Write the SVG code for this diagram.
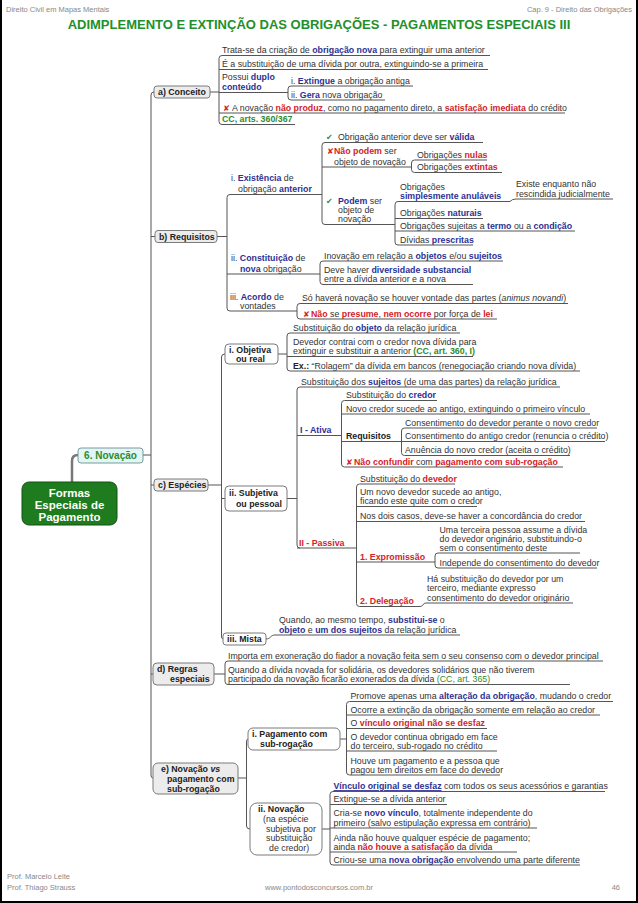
<svg xmlns="http://www.w3.org/2000/svg" width="638" height="903" viewBox="0 0 638 903">
<style>
.t{font-family:"Liberation Sans",Arial,sans-serif;font-size:8.8px;fill:#333}
.b{font-weight:bold;fill:#2e3192}
.r{font-weight:bold;fill:#d2232a}
.g{font-weight:bold;fill:#2e8b2e}
.gn{fill:#2e8b2e}
.k{font-weight:bold;fill:#222}
.s{font-family:"DejaVu Sans",sans-serif;font-weight:bold;font-size:8px}
.ln{stroke:#555;stroke-width:1;fill:none}
.box{fill:#ececec;stroke:#7a7a7a;stroke-width:1}
.wbox{fill:#fff;stroke:#7a7a7a;stroke-width:1}
.hd{font-family:"Liberation Sans",Arial,sans-serif;font-size:7.5px;fill:#888}
.rt{font-family:"Liberation Sans",Arial,sans-serif;font-size:11.5px;font-weight:bold;fill:#fff}
</style>
<rect width="638" height="903" fill="#fff"/>
<path d="M1,0V902H637V0" fill="none" stroke="#000" stroke-width="2"/>
<g id="header">
<text class="hd" x="6" y="12">Direito Civil em Mapas Mentais</text>
<text class="hd" x="632" y="12" text-anchor="end">Cap. 9 - Direito das Obrigações</text>
<text x="319" y="29" text-anchor="middle" style="font-family:'Liberation Sans',Arial,sans-serif;font-size:13px;font-weight:bold;fill:#22902a">ADIMPLEMENTO E EXTINÇÃO DAS OBRIGAÇÕES - PAGAMENTOS ESPECIAIS III</text>
</g>
<g id="footer">
<text class="hd" x="7" y="879">Prof. Marcelo Leite</text>
<text class="hd" x="7" y="890">Prof. Thiago Strauss</text>
<text class="hd" x="319" y="890" text-anchor="middle">www.pontodosconcursos.com.br</text>
<text class="hd" x="620" y="890" text-anchor="end">46</text>
</g>

<g id="connectors" class="ln">
<path d="M72,482V461Q72,455 78,455" stroke="#777" stroke-width="2.5"/>
<path d="M143,455H151"/>
<path d="M154,92Q151,92 151,95V775Q151,778 153,778"/>
<path d="M151,236.5H155M151,485H154M151,674H153"/>
<path d="M210,92H219"/>
<path d="M222,55.5Q219,55.5 219,58.5V121.5Q219,124.5 222,124.5"/>
<path d="M291,86Q288,86 288,89V97Q288,100 291,100"/>
<path d="M217,236.5H227"/>
<path d="M230,194.5Q227,194.5 227,197.5V308Q227,311 230,311"/>
<path d="M325,142.5Q322,142.5 322,145.5V221.5Q322,224.5 325,224.5"/>
<path d="M414.5,160Q411.5,160 411.5,163V169.5Q411.5,172.5 414.5,172.5"/>
<path d="M398,201.5Q395,201.5 395,204.5V242Q395,245 398,245"/>
<path d="M510,201.5Q512,199 516,199"/>
<path d="M323,261Q320,261 320,264V281.5Q320,284.5 323,284.5"/>
<path d="M300,303.5Q297,303.5 297,306.5V316Q297,319 300,319"/>
<path d="M208,485H221.5"/>
<path d="M225,354Q221.5,354 221.5,357V636Q221.5,639 223,639"/>
<path d="M221.5,498.5H225"/>
<path d="M278,354H287"/>
<path d="M290,333Q287,333 287,336V368Q287,371 290,371"/>
<path d="M287,498.5H297"/>
<path d="M300,387Q297,387 297,390V545Q297,548 300,548"/>
<path d="M344.5,400.5Q341.5,400.5 341.5,403.5V464Q341.5,467 344.5,467"/>
<path d="M404.5,428Q401.5,428 401.5,431V452.5Q401.5,455.5 404.5,455.5"/>
<path d="M359.5,484Q356.5,484 356.5,487V603.5Q356.5,606.5 359.5,606.5"/>
<path d="M438,553Q435,553 435,556V565Q435,568 438,568"/>
<path d="M420,606.5C423,606.5 423,603 426,603"/>
<path d="M266,639C271,639 270,635 275,635"/>
<path d="M214,674H225"/>
<path d="M228,661Q225,661 225,664V681.5Q225,684.5 228,684.5"/>
<path d="M238,778H246.5"/>
<path d="M248,739Q246.5,739 246.5,742V826Q246.5,829 250,829"/>
<path d="M340,739H346.5"/>
<path d="M349.5,701.5Q346.5,701.5 346.5,704.5V772Q346.5,775 349.5,775"/>
<path d="M322,829H330"/>
<path d="M333,791.5Q330,791.5 330,794.5V862Q330,865 333,865"/>
</g>

<g id="n-root">
<rect x="22" y="482" width="95" height="43" rx="7" fill="#1e7b1e" stroke="#135413"/>
<text class="rt" x="69.5" y="496.5" text-anchor="middle">Formas</text>
<text class="rt" x="69.5" y="508.5" text-anchor="middle">Especiais de</text>
<text class="rt" x="69.5" y="521" text-anchor="middle">Pagamento</text>
</g>
<g id="n-novacao">
<rect x="78" y="448" width="65" height="15" rx="3" fill="#e2f6f6" stroke="#7a9a9a"/>
<text class="t" x="110.5" y="459" text-anchor="middle" style="font-size:10px;font-weight:bold;fill:#2e8b2e">6. Novação</text>
</g>

<!-- a) Conceito -->
<g id="n-a"><rect class="box" x="154" y="86" width="56" height="12" rx="3"/><text class="t k" x="158" y="95">a) Conceito</text></g>
<g id="n-a1"><text class="t" x="222" y="53">Trata-se da criação de <tspan class="b">obrigação nova</tspan> para extinguir uma anterior</text><path class="ln" d="M222,55.5H490"/></g>
<g id="n-a2"><text class="t" x="222" y="67">É a substituição de uma dívida por outra, extinguindo-se a primeira</text><path class="ln" d="M219,69.5H488"/></g>
<g id="n-a3"><text class="t" x="222" y="80">Possui <tspan class="b">duplo</tspan></text><text class="t b" x="222" y="90">conteúdo</text><path class="ln" d="M219,92.5H288"/></g>
<g id="n-a3a"><text class="t" x="291" y="83.5">i. <tspan class="b">Extingue</tspan> a obrigação antiga</text><path class="ln" d="M291,86H413"/></g>
<g id="n-a3b"><text class="t" x="291" y="97.5">ii. <tspan class="b">Gera</tspan> nova obrigação</text><path class="ln" d="M291,100H385"/></g>
<g id="n-a4"><text class="t" x="223" y="110.5"><tspan class="s" fill="#d2232a">✘</tspan><tspan x="232">A novação </tspan><tspan class="r">não produz</tspan>, como no pagamento direto, a <tspan class="r">satisfação imediata</tspan> do crédito</text><path class="ln" d="M219,113H565"/></g>
<g id="n-a5"><text class="t g" x="222" y="122">CC, arts. 360/367</text><path class="ln" d="M222,124.5H295"/></g>

<!-- b) Requisitos -->
<g id="n-b"><rect class="box" x="155" y="230.5" width="62" height="12" rx="3"/><text class="t k" x="159" y="239.5">b) Requisitos</text></g>
<g id="n-b1"><text class="t" x="231" y="181">i. <tspan class="b">Existência</tspan> de</text><text class="t" x="238" y="191.5">obrigação <tspan class="b">anterior</tspan></text><path class="ln" d="M230,194.5H322"/></g>
<g id="n-b1a"><text class="t" x="326" y="140"><tspan class="s" fill="#2e8b2e">✔</tspan><tspan x="338">Obrigação anterior deve ser  </tspan><tspan class="b">válida</tspan></text><path class="ln" d="M325,142.5H483"/></g>
<g id="n-b1b"><text class="t" x="327" y="153.5"><tspan class="s" fill="#d2232a">✘</tspan><tspan x="334" class="r">Não podem</tspan> ser</text><text class="t" x="334" y="164.5">objeto de novação</text><path class="ln" d="M322,167H411.5"/></g>
<g id="n-b1b1"><text class="t" x="417" y="157.5">Obrigações <tspan class="r">nulas</tspan></text><path class="ln" d="M414.5,160H487"/></g>
<g id="n-b1b2"><text class="t" x="417" y="170">Obrigações <tspan class="r">extintas</tspan></text><path class="ln" d="M414.5,172.5H502"/></g>
<g id="n-b1c"><text class="t" x="326" y="203.5"><tspan class="s" fill="#2e8b2e">✔</tspan><tspan x="338" class="b">Podem</tspan> ser</text><text class="t" x="338" y="213">objeto de</text><text class="t" x="338" y="222">novação</text><path class="ln" d="M325,224.5H395"/></g>
<g id="n-b1c1"><text class="t" x="400" y="189.5">Obrigações</text><text class="t b" x="400" y="199">simplesmente anuláveis</text><path class="ln" d="M398,201.5H510"/></g>
<g id="n-b1c1a"><text class="t" x="516" y="186.5">Existe enquanto não</text><text class="t" x="516" y="196.5">rescindida judicialmente</text><path class="ln" d="M516,199H613"/></g>
<g id="n-b1c2"><text class="t" x="400" y="216">Obrigações <tspan class="b">naturais</tspan></text><path class="ln" d="M395,218.5H483"/></g>
<g id="n-b1c3"><text class="t" x="400" y="228.5">Obrigações sujeitas a <tspan class="b">termo</tspan> ou a  <tspan class="b">condição</tspan></text><path class="ln" d="M395,231H575"/></g>
<g id="n-b1c4"><text class="t" x="400" y="242.5">Dívidas <tspan class="b">prescritas</tspan></text><path class="ln" d="M398,245H473"/></g>
<g id="n-b2"><text class="t" x="231" y="261">ii. <tspan class="b">Constituição</tspan> de</text><text class="t" x="240" y="271.5"><tspan class="b">nova</tspan> obrigação</text><path class="ln" d="M227,274H320"/></g>
<g id="n-b2a"><text class="t" x="324" y="258.5">Inovação em relação a <tspan class="b">objetos</tspan> e/ou  <tspan class="b">sujeitos</tspan></text><path class="ln" d="M323,261H503"/></g>
<g id="n-b2b"><text class="t" x="324" y="273">Deve haver <tspan class="b">diversidade substancial</tspan></text><text class="t" x="324" y="282">entre a dívida anterior e a nova</text><path class="ln" d="M323,284.5H473"/></g>
<g id="n-b3"><text class="t" x="230" y="299.5">iii. <tspan class="b">Acordo</tspan> de</text><text class="t" x="240" y="308.5">vontades</text><path class="ln" d="M230,311H297"/></g>
<g id="n-b3a"><text class="t" x="302" y="301">Só haverá novação se houver vontade das partes (<tspan font-style="italic">animus novandi</tspan>)</text><path class="ln" d="M300,303.5H568"/></g>
<g id="n-b3b"><text class="t" x="303" y="316.5"><tspan class="s" fill="#d2232a">✘</tspan><tspan x="311" class="r">Não</tspan> se <tspan class="r">presume</tspan>, <tspan class="r">nem ocorre</tspan> por força de <tspan class="r">lei</tspan></text><path class="ln" d="M300,319H497"/></g>

<!-- c) Espécies -->
<g id="n-c"><rect class="box" x="154" y="479" width="54" height="12" rx="3"/><text class="t k" x="158" y="488">c) Espécies</text></g>
<g id="n-c1"><rect class="wbox" x="225" y="344" width="53" height="20" rx="4"/><text class="t k" x="229" y="352.5">i. Objetiva</text><text class="t k" x="236" y="361.5">ou real</text></g>
<g id="n-c1a"><text class="t" x="293" y="330.5">Substituição do <tspan class="b">objeto</tspan> da relação jurídica</text><path class="ln" d="M290,333H460"/></g>
<g id="n-c1b"><text class="t" x="293" y="345">Devedor contrai com o credor nova dívida para</text><text class="t" x="293" y="354">extinguir e substituir a anterior <tspan class="g">(CC, art. 360, I)</tspan></text><path class="ln" d="M287,356.5H473"/></g>
<g id="n-c1c"><text class="t" x="293" y="368.5"><tspan class="k">Ex.:</tspan> “Rolagem” da dívida em bancos (renegociação criando nova dívida)</text><path class="ln" d="M290,371H580"/></g>
<g id="n-c2"><rect class="wbox" x="225" y="486" width="62" height="25" rx="4"/><text class="t k" x="229" y="496">ii. Subjetiva</text><text class="t k" x="236" y="506.5">ou pessoal</text></g>
<g id="n-c2a"><text class="t" x="301" y="384.5">Substituição dos <tspan class="b">sujeitos</tspan> (de uma das partes) da relação jurídica</text><path class="ln" d="M300,387H560"/></g>
<g id="n-c2b"><text class="t b" x="300" y="433">I - Ativa</text><path class="ln" d="M297,435.5H341.5"/></g>
<g id="n-c2b1"><text class="t" x="346" y="398">Substituição do <tspan class="b">credor</tspan></text><path class="ln" d="M344.5,400.5H437"/></g>
<g id="n-c2b2"><text class="t" x="346" y="411.5">Novo credor sucede ao antigo, extinguindo o primeiro vínculo</text><path class="ln" d="M341.5,414H590"/></g>
<g id="n-c2b3"><text class="t k" x="346" y="439">Requisitos</text><path class="ln" d="M341.5,441.5H401.5"/></g>
<g id="n-c2b3a"><text class="t" x="405" y="425.5">Consentimento do devedor perante o novo credor</text><path class="ln" d="M404.5,428H597"/></g>
<g id="n-c2b3b"><text class="t" x="405" y="439">Consentimento do antigo credor (renuncia o crédito)</text><path class="ln" d="M401.5,441.5H605"/></g>
<g id="n-c2b3c"><text class="t" x="405" y="453">Anuência do novo credor (aceita o crédito)</text><path class="ln" d="M404.5,455.5H570"/></g>
<g id="n-c2b4"><text class="t" x="346" y="464.5"><tspan class="s" fill="#d2232a">✘</tspan><tspan x="354" class="r">Não confundir</tspan> com <tspan class="r">pagamento com sub-rogação</tspan></text><path class="ln" d="M344.5,467H563"/></g>
<g id="n-c2c"><text class="t r" x="299" y="545.5">II - Passiva</text><path class="ln" d="M297,548H356.5"/></g>
<g id="n-c2c1"><text class="t" x="360" y="481.5">Substituição do <tspan class="r">devedor</tspan></text><path class="ln" d="M359.5,484H455"/></g>
<g id="n-c2c2"><text class="t" x="360" y="495">Um novo devedor sucede ao antigo,</text><text class="t" x="360" y="504">ficando este quite com o credor</text><path class="ln" d="M356.5,506.5H477"/></g>
<g id="n-c2c3"><text class="t" x="360" y="519">Nos dois casos, deve-se haver a concordância do credor</text><path class="ln" d="M356.5,521.5H585"/></g>
<g id="n-c2c4"><text class="t r" x="360" y="559.5">1. Expromissão</text><path class="ln" d="M356.5,562H435"/></g>
<g id="n-c2c4a"><text class="t" x="439.5" y="532.5">Uma terceira pessoa assume a dívida</text><text class="t" x="439.5" y="541.5">do devedor originário, substituindo-o</text><text class="t" x="439.5" y="550.5">sem o consentimento deste</text><path class="ln" d="M438,553H580"/></g>
<g id="n-c2c4b"><text class="t" x="439.5" y="565.5">Independe do consentimento do devedor</text><path class="ln" d="M438,568H597"/></g>
<g id="n-c2c5"><text class="t r" x="360" y="604">2. Delegação</text><path class="ln" d="M359.5,606.5H420"/></g>
<g id="n-c2c5a"><text class="t" x="427" y="581.5">Há substituição do devedor por um</text><text class="t" x="427" y="591">terceiro, mediante expresso</text><text class="t" x="427" y="600.5">consentimento do devedor originário</text><path class="ln" d="M426,603H573"/></g>
<g id="n-c3"><rect class="wbox" x="223" y="633" width="43" height="12" rx="3"/><text class="t k" x="227" y="642">iii. Mista</text></g>
<g id="n-c3a"><text class="t" x="279" y="623">Quando, ao mesmo tempo, <tspan class="b">substitui-se</tspan> o</text><text class="t" x="279" y="632.5"><tspan class="b">objeto</tspan> e <tspan class="b">um dos sujeitos</tspan> da relação jurídica</text><path class="ln" d="M275,635H460"/></g>

<!-- d) Regras especiais -->
<g id="n-d"><rect class="box" x="153" y="663" width="61" height="22" rx="4"/><text class="t k" x="157" y="671.5">d) Regras</text><text class="t k" x="170" y="682">especiais</text></g>
<g id="n-d1"><text class="t" x="228" y="658.5">Importa em exoneração do fiador a novação feita sem o seu consenso com o devedor principal</text><path class="ln" d="M228,661H603"/></g>
<g id="n-d2"><text class="t" x="228" y="672.5">Quando a dívida novada for solidária, os devedores solidários que não tiverem</text><text class="t" x="228" y="682">participado da novação ficarão exonerados da dívida <tspan class="gn">(CC, art. 365)</tspan></text><path class="ln" d="M228,684.5H570"/></g>

<!-- e) Novação vs pagamento com sub-rogação -->
<g id="n-e"><rect class="box" x="153" y="763" width="85" height="31" rx="5"/><text class="t k" x="161" y="771.5">e) Novação <tspan font-style="italic">vs</tspan></text><text class="t k" x="167" y="782">pagamento com</text><text class="t k" x="167" y="791.5">sub-rogação</text></g>
<g id="n-e1"><rect class="wbox" x="248" y="728" width="92" height="22" rx="5"/><text class="t k" x="252" y="736.5">i. Pagamento com</text><text class="t k" x="260" y="747">sub-rogação</text></g>
<g id="n-e1a"><text class="t" x="350.5" y="699">Promove apenas uma <tspan class="b">alteração da obrigação</tspan>, mudando o credor</text><path class="ln" d="M349.5,701.5H613"/></g>
<g id="n-e1b"><text class="t" x="350.5" y="712.5">Ocorre a extinção da obrigação somente em relação ao credor</text><path class="ln" d="M346.5,715H600"/></g>
<g id="n-e1c"><text class="t" x="350.5" y="726">O <tspan class="r">vínculo original não se desfaz</tspan></text><path class="ln" d="M346.5,728.5H487"/></g>
<g id="n-e1d"><text class="t" x="350.5" y="740">O devedor continua obrigado em face</text><text class="t" x="350.5" y="749">do terceiro, sub-rogado no crédito</text><path class="ln" d="M346.5,751H497"/></g>
<g id="n-e1e"><text class="t" x="350.5" y="764">Houve um pagamento e a pessoa que</text><text class="t" x="350.5" y="773">pagou tem direitos em face do devedor</text><path class="ln" d="M349.5,775H500"/></g>
<g id="n-e2"><rect class="wbox" x="250" y="803" width="72" height="52" rx="7"/><text class="t k" x="258" y="812">ii. Novação</text><text class="t" x="263" y="822">(na espécie</text><text class="t" x="266" y="831.5">subjetiva por</text><text class="t" x="266" y="841">substituição</text><text class="t" x="269" y="850.5">de credor)</text></g>
<g id="n-e2a"><text class="t" x="333.5" y="789"><tspan class="b" text-decoration="underline">Vínculo original se desfaz</tspan> com todos os seus acessórios e garantias</text><path class="ln" d="M333,791.5H605"/></g>
<g id="n-e2b"><text class="t" x="333.5" y="802">Extingue-se a dívida anterior</text><path class="ln" d="M330,804.5H447"/></g>
<g id="n-e2c"><text class="t" x="333.5" y="816">Cria-se <tspan class="b">novo vínculo</tspan>, totalmente independente do</text><text class="t" x="333.5" y="825.5">primeiro (salvo estipulação expressa em contrário)</text><path class="ln" d="M330,828H537"/></g>
<g id="n-e2d"><text class="t" x="333.5" y="840.5">Ainda não houve qualquer espécie de pagamento;</text><text class="t" x="333.5" y="849.5">ainda <tspan class="r">não houve a satisfação</tspan> da dívida</text><path class="ln" d="M330,852H517"/></g>
<g id="n-e2e"><text class="t" x="333.5" y="862.5">Criou-se uma <tspan class="b">nova obrigação</tspan> envolvendo uma parte diferente</text><path class="ln" d="M333,865H580"/></g>
</svg>
